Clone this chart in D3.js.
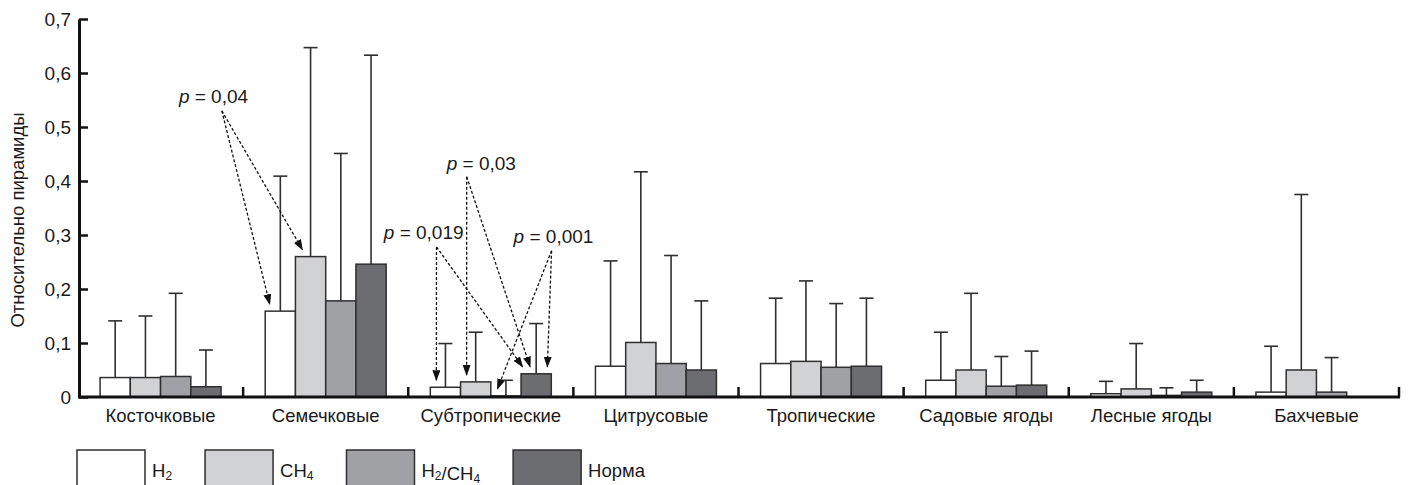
<!DOCTYPE html>
<html>
<head>
<meta charset="utf-8">
<script src="https://cdn.jsdelivr.net/npm/d3@7"></script>
<style>
	body { margin: 0; background: #fff; }
	text { font-family: "Liberation Sans", Arial, sans-serif; fill: #1a1a1a; }
</style>
</head>
<body>
<div id="chart"></div>
<script>
var categories = ["Косточковые", "Семечковые", "Субтропические", "Цитрусовые", "Тропические", "Садовые ягоды", "Лесные ягоды", "Бахчевые"];
var seriesNames = ["H2", "CH4", "H2/CH4", "Норма"];
var seriesColors = ["#ffffff", "#d1d2d4", "#a0a1a4", "#6c6d71"];

// mean values, one array per series
var h2Values    = [0.036, 0.159, 0.018, 0.057, 0.062, 0.031, 0.006, 0.009];
var ch4Values   = [0.036, 0.260, 0.028, 0.101, 0.066, 0.050, 0.015, 0.050];
var ratioValues = [0.038, 0.178, 0.002, 0.062, 0.055, 0.020, 0.003, 0.009];
var normValues  = [0.019, 0.246, 0.043, 0.050, 0.057, 0.022, 0.009, 0];

// upper end of error bars
var h2Upper    = [0.141, 0.409, 0.099, 0.252, 0.183, 0.120, 0.029, 0.094];
var ch4Upper   = [0.150, 0.647, 0.120, 0.417, 0.215, 0.192, 0.099, 0.375];
var ratioUpper = [0.192, 0.451, 0.031, 0.262, 0.173, 0.075, 0.017, 0.073];
var normUpper  = [0.087, 0.633, 0.136, 0.178, 0.183, 0.085, 0.031, null];

var yTicks = [0, 0.1, 0.2, 0.3, 0.4, 0.5, 0.6, 0.7];
var yTitle = "Относительно пирамиды";

// significance notes: text spot, origin of arrows (category units, value), targets [series, place in bar]
var notes = [
	{ p: "0,04",  text: [0.611, 0.544], from: [0.871, 0.530], cat: 1, to: [[0, 0.15], [1, 0.23]] },
	{ p: "0,03",  text: [2.233, 0.420], from: [2.354, 0.408], cat: 2, to: [[1, 0.2], [3, 0.3]] },
	{ p: "0,019", text: [1.852, 0.293], from: [2.171, 0.278], cat: 2, to: [[0, 0.2], [3, 0.05]] },
	{ p: "0,001", text: [2.638, 0.285], from: [2.868, 0.271], cat: 2, to: [[3, 0.87], [2, 0.22]] }
];

var values = [h2Values, ch4Values, ratioValues, normValues];
var uppers = [h2Upper, ch4Upper, ratioUpper, normUpper];

var width = 1408, height = 485;
var x0 = 78, x1 = 1399, yBase = 397, yTop = 19;
var fs = 18.5;

var svg = d3.select("#chart").append("svg")
	.attr("width", width)
	.attr("height", height);

var defs = svg.append("defs");
defs.append("marker")
	.attr("id", "arrow")
	.attr("markerUnits", "userSpaceOnUse")
	.attr("markerWidth", 11).attr("markerHeight", 8)
	.attr("refX", 10).attr("refY", 4)
	.attr("orient", "auto")
	.append("path")
	.attr("d", "M0,0 L11,4 L0,8 Z")
	.attr("fill", "#111");

var x = d3.scaleBand().domain(d3.range(categories.length)).range([x0, x1]);
var xPos = d3.scaleLinear().domain([0, categories.length]).range([x0, x1]);
var xs = d3.scaleBand().domain(d3.range(seriesNames.length)).range([0, x.bandwidth()]).paddingOuter(0.73);
var y = d3.scaleLinear().domain([0, 0.7]).range([yBase, yTop]);

var rows = [];
categories.forEach(function(c, i) {
	seriesNames.forEach(function(s, j) {
		rows.push({ cat: i, ser: j, value: values[j][i], upper: uppers[j][i] });
	});
});

// error bars first, bars drawn over them
var err = svg.append("g").selectAll("g")
	.data(rows.filter(function(d) { return d.upper != null; }))
	.enter().append("g")
	.attr("stroke", "#2f2f2f")
	.attr("stroke-width", 1.6);
err.append("line")
	.attr("x1", function(d) { return x(d.cat) + xs(d.ser) + xs.bandwidth() / 2; })
	.attr("x2", function(d) { return x(d.cat) + xs(d.ser) + xs.bandwidth() / 2; })
	.attr("y1", function(d) { return y(d.value); })
	.attr("y2", function(d) { return y(d.upper); });
err.append("line")
	.attr("x1", function(d) { return x(d.cat) + xs(d.ser) + xs.bandwidth() / 2 - 7; })
	.attr("x2", function(d) { return x(d.cat) + xs(d.ser) + xs.bandwidth() / 2 + 7; })
	.attr("y1", function(d) { return y(d.upper); })
	.attr("y2", function(d) { return y(d.upper); });

svg.append("g").selectAll("rect")
	.data(rows.filter(function(d) { return d.value > 0; }))
	.enter().append("rect")
	.attr("x", function(d) { return x(d.cat) + xs(d.ser); })
	.attr("y", function(d) { return y(d.value); })
	.attr("width", xs.bandwidth())
	.attr("height", function(d) { return yBase - y(d.value); })
	.attr("fill", function(d) { return seriesColors[d.ser]; })
	.attr("stroke", "#2f2f2f")
	.attr("stroke-width", 1.5);

// y axis
var yAxis = svg.append("g")
	.attr("transform", "translate(" + (x0 + 1) + ",0)")
	.call(d3.axisLeft(y).tickValues(yTicks).tickSizeInner(-9).tickSizeOuter(0).tickPadding(8)
		.tickFormat(function(d) { return d === 0 ? "0" : d3.format(".1f")(d).replace(".", ","); }));
yAxis.select(".domain").attr("stroke", "#111").attr("stroke-width", 3);
yAxis.selectAll(".tick line").attr("stroke", "#111").attr("stroke-width", 2.5);
yAxis.selectAll(".tick text").attr("font-size", fs + 0.5).attr("fill", "#1a1a1a")
	.attr("font-family", "'Liberation Sans', Arial, sans-serif");

// x axis baseline and separators
svg.append("line")
	.attr("x1", x0).attr("x2", x1 + 1)
	.attr("y1", yBase).attr("y2", yBase)
	.attr("stroke", "#111").attr("stroke-width", 3);
svg.append("g").selectAll("line")
	.data(d3.range(1, categories.length + 1))
	.enter().append("line")
	.attr("x1", function(d) { return xPos(d); })
	.attr("x2", function(d) { return xPos(d); })
	.attr("y1", yBase).attr("y2", yBase - 10)
	.attr("stroke", "#111").attr("stroke-width", 2.5);

svg.append("g").selectAll("text")
	.data(categories)
	.enter().append("text")
	.attr("x", function(d, i) { return x(i) + x.bandwidth() / 2; })
	.attr("y", 422)
	.attr("text-anchor", "middle")
	.attr("font-size", fs)
	.text(function(d) { return d; });

svg.append("text")
	.attr("transform", "translate(24,220) rotate(-90)")
	.attr("text-anchor", "middle")
	.attr("font-size", fs)
	.text(yTitle);

// notes with dashed arrows
notes.forEach(function(n) {
	var ox = xPos(n.from[0]), oy = y(n.from[1]);
	n.to.forEach(function(t) {
		var s = t[0];
		var tx = x(n.cat) + xs(s) + xs.bandwidth() * t[1];
		var ty = y(values[s][n.cat]) - 7;
		svg.append("line")
			.attr("x1", ox).attr("y1", oy)
			.attr("x2", tx).attr("y2", ty)
			.attr("stroke", "#111")
			.attr("stroke-width", 1.3)
			.attr("stroke-dasharray", "3,2")
			.attr("marker-end", "url(#arrow)");
	});
	var t = svg.append("text")
		.attr("x", xPos(n.text[0]))
		.attr("y", y(n.text[1]))
		.attr("font-size", fs + 0.5);
	t.append("tspan").attr("font-style", "italic").text("p");
	t.append("tspan").text(" = " + n.p);
});

// legend
var lg = svg.append("g");
var lx = 77;
seriesNames.forEach(function(s, i) {
	lg.append("rect")
		.attr("x", lx).attr("y", 450)
		.attr("width", 68).attr("height", 42)
		.attr("fill", seriesColors[i])
		.attr("stroke", "#2f2f2f").attr("stroke-width", 1.5);
	var t = lg.append("text")
		.attr("x", lx + 75).attr("y", 477)
		.attr("font-size", fs);
	var parts = s.match(/[A-Za-zА-Яа-я]+|\d+|\//g);
	parts.forEach(function(p) {
		if (/^\d+$/.test(p)) {
			t.append("tspan").attr("font-size", 12).attr("dy", 3).text(p);
			t.append("tspan").attr("dy", -3).text("");
		} else {
			t.append("tspan").text(p);
		}
	});
	lx = lx + 75 + t.node().getComputedTextLength() + 33;
});
</script>
</body>
</html>
